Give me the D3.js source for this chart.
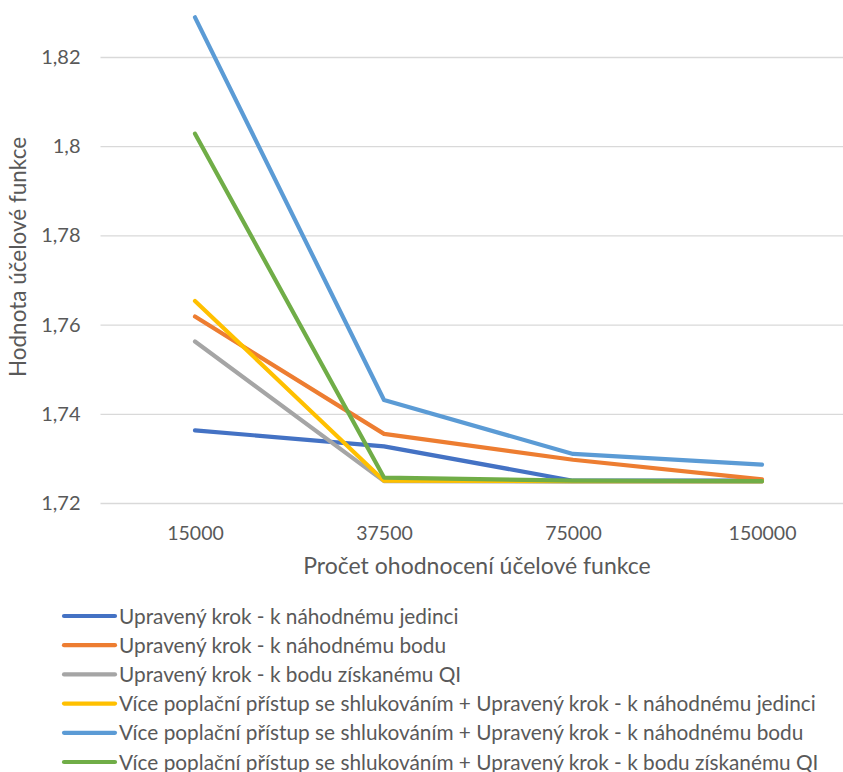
<!DOCTYPE html>
<html>
<head>
<meta charset="utf-8">
<script src="https://cdn.jsdelivr.net/npm/d3@7"></script>
<style>
  body { margin: 0; background: #fff; }
  svg { display: block; }
  text { font-family: Lato, "Open Sans", sans-serif; fill: #595959; }
</style>
</head>
<body>
<div id="chart"></div>
<script>
// categories (x axis)
const categories = ["15000", "37500", "75000", "150000"];

// series names, in legend order
const seriesNames = [
  "Upravený krok - k náhodnému jedinci",
  "Upravený krok - k náhodnému bodu",
  "Upravený krok - k bodu získanému QI",
  "Více poplační přístup se shlukováním + Upravený krok - k náhodnému jedinci",
  "Více poplační přístup se shlukováním + Upravený krok - k náhodnému bodu",
  "Více poplační přístup se shlukováním + Upravený krok - k bodu získanému QI",
];

// values, one array per series
const randomIndividual = [1.7363, 1.7327, 1.7250, 1.7250];
const randomPoint = [1.7618, 1.7355, 1.7297, 1.7253];
const qiPoint = [1.7562, 1.7249, 1.7248, 1.7248];
const clusterRandomIndividual = [1.7653, 1.7250, 1.7249, 1.7249];
const clusterRandomPoint = [1.8289, 1.7431, 1.7310, 1.7286];
const clusterQiPoint = [1.8028, 1.7257, 1.7250, 1.7249];

const yTicks = [1.72, 1.74, 1.76, 1.78, 1.80, 1.82];

const colors = ["#4472C4", "#ED7D31", "#A5A5A5", "#FFC000", "#5B9BD5", "#70AD47"];

const series = [
  randomIndividual, randomPoint, qiPoint,
  clusterRandomIndividual, clusterRandomPoint, clusterQiPoint,
].map((values, i) => ({ name: seriesNames[i], color: colors[i], values }));

const width = 843;
const height = 772;
const plot = { left: 100.5, right: 856.5, bottom: 503 };

const svg = d3.select("#chart")
  .append("svg")
  .attr("width", width)
  .attr("height", height);

const x = d3.scalePoint()
  .domain(categories)
  .range([plot.left, plot.right])
  .padding(0.5);

const y = d3.scaleLinear()
  .domain([1.72, 1.82])
  .range([plot.bottom, plot.bottom - 5 * 89.2]);

// y axis + gridlines
const yAxis = svg.append("g")
  .attr("transform", `translate(${plot.left},0)`)
  .call(d3.axisLeft(y)
    .tickValues(yTicks)
    .tickSize(-(plot.right - plot.left))
    .tickPadding(20)
    .tickFormat(d => String(+d.toFixed(2)).replace(".", ",")));
yAxis.select(".domain").remove();
yAxis.selectAll("line").attr("stroke", "#d9d9d9").attr("stroke-width", 1.3);
yAxis.selectAll("text")
  .attr("font-size", 20)
  .attr("font-family", null)
  .attr("fill", "#595959");

// x axis labels
const xAxis = svg.append("g")
  .attr("transform", `translate(0,${plot.bottom})`)
  .call(d3.axisBottom(x).tickSize(0).tickPadding(0));
xAxis.select(".domain").remove();
xAxis.selectAll("text")
  .attr("y", 37)
  .attr("dy", null)
  .attr("font-size", 19.5)
  .attr("font-family", null)
  .attr("fill", "#595959");

// axis titles
svg.append("text")
  .attr("x", 477)
  .attr("y", 574)
  .attr("text-anchor", "middle")
  .attr("font-size", 23)
  .text("Pročet ohodnocení účelové funkce");

svg.append("text")
  .attr("transform", "translate(26,257) rotate(-90)")
  .attr("text-anchor", "middle")
  .attr("font-size", 22.5)
  .text("Hodnota účelové funkce");

// lines
const line = d3.line()
  .x((d, i) => x(categories[i]))
  .y(d => y(d));

svg.append("g")
  .selectAll("path")
  .data(series)
  .join("path")
  .attr("fill", "none")
  .attr("stroke", d => d.color)
  .attr("stroke-width", 4.2)
  .attr("stroke-linecap", "round")
  .attr("stroke-linejoin", "round")
  .attr("d", d => line(d.values));

// legend
const legend = svg.append("g")
  .selectAll("g")
  .data(series)
  .join("g")
  .attr("transform", (d, i) => `translate(0,${616 + i * 29.2})`);

legend.append("line")
  .attr("x1", 64)
  .attr("x2", 115)
  .attr("stroke", d => d.color)
  .attr("stroke-width", 4.2)
  .attr("stroke-linecap", "round");

legend.append("text")
  .attr("x", 119)
  .attr("dy", "0.36em")
  .attr("font-size", 20.8)
  .text(d => d.name);
</script>
</body>
</html>
